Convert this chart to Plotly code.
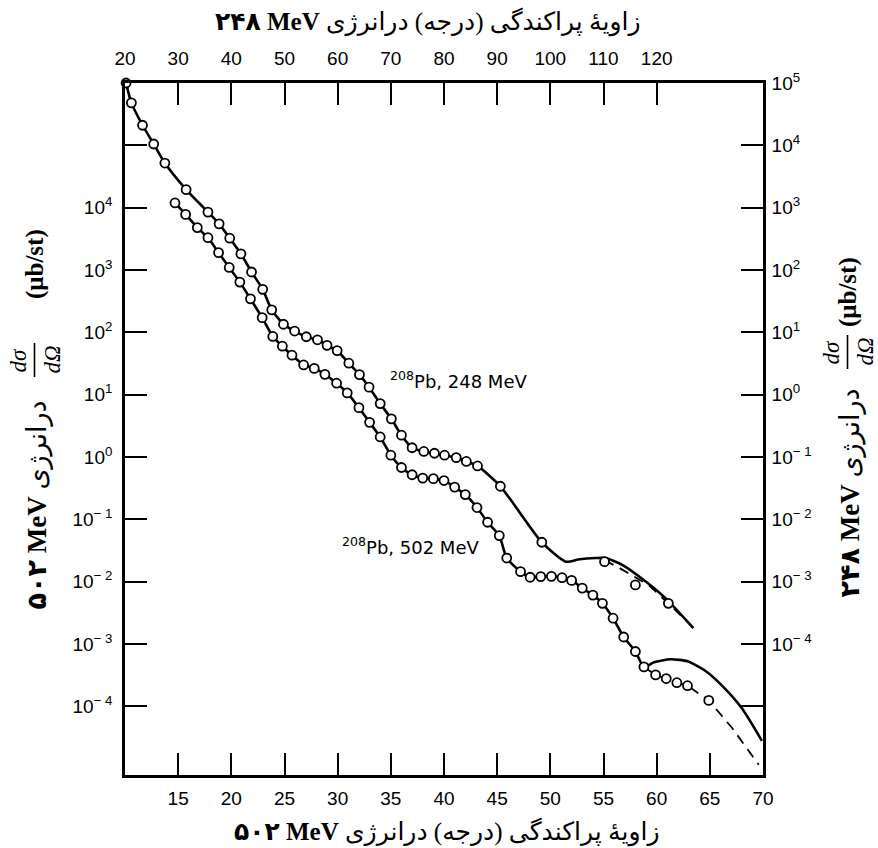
import plotly.graph_objects as go

# ---------------- 208Pb, 502 MeV (lower angle scale, left cross-section scale) ----------------
theta_502 = [14.7, 15.7, 16.8, 17.8, 18.8, 19.8, 20.8, 21.8, 22.9, 23.9,
             24.8, 25.7, 26.8, 27.8, 28.8, 29.9, 30.9, 32.0, 33.0, 34.0,
             35.0, 36.0, 37.0, 38.0, 39.0, 40.0, 41.0, 42.0, 43.1, 44.1,
             45.2, 45.9, 47.2, 48.1, 49.1, 50.1, 51.1, 52.0, 53.0, 54.0,
             54.9, 55.9, 56.9, 58.0, 58.8, 59.9, 60.9, 61.9, 62.9, 64.9]
xsec_502 = [1.19e4, 7.8e3, 4.8e3, 3.3e3, 1.9e3, 1.1e3, 640, 345, 172, 86,
            60, 43, 30, 26.4, 21.2, 15.3, 10.7, 6.2, 3.6, 2.1,
            1.07, 0.68, 0.52, 0.46, 0.45, 0.42, 0.33, 0.25, 0.155, 0.090,
            0.055, 0.024, 0.0145, 0.0118, 0.0121, 0.0122, 0.0116, 0.0105, 7.9e-3, 6.1e-3,
            4.5e-3, 2.6e-3, 1.3e-3, 7.6e-4, 4.3e-4, 3.2e-4, 2.8e-4, 2.4e-4, 2.15e-4, 1.25e-4]

# calculated curves beyond the diffraction minimum near 59 deg
solid_502_theta_tail = [59.75, 61.3, 62.9, 64.5, 66.1, 68.0, 69.9]
solid_502_xsec_tail = [5.1e-4, 5.7e-4, 5.3e-4, 3.8e-4, 2.2e-4, 9.4e-5, 2.8e-5]
dash_502_theta_tail = [67.1, 69.6]
dash_502_xsec_tail = [4.5e-5, 1.16e-5]

# ---------------- 208Pb, 248 MeV (upper angle scale, right cross-section scale) ----------------
theta_248 = [20.2, 21.2, 23.3, 25.4, 27.5, 31.5, 35.6, 37.7, 39.7, 41.8,
             43.8, 45.9, 47.6, 49.8, 51.9, 54.1, 56.2, 58.0, 59.9, 62.1,
             64.1, 65.9, 68.0, 70.1, 72.0, 74.0, 76.2, 78.2, 80.1, 82.3,
             84.2, 86.3, 90.6, 98.4, 110.2, 116.0, 122.2]
xsec_248 = [1.0e5, 4.8e4, 2.1e4, 1.05e4, 5.2e3, 1.95e3, 850, 550, 324, 182,
            93, 49, 23, 13.5, 10.5, 8.5, 7.6, 6.2, 5.1, 3.2,
            2.1, 1.32, 0.72, 0.41, 0.224, 0.141, 0.123, 0.115, 0.107, 0.098,
            0.085, 0.072, 0.034, 4.3e-3, 2.1e-3, 8.9e-4, 4.5e-4]

solid_248_theta_tail = [102.9, 105.5, 108.5, 110.4, 113.6, 118.0, 121.8, 126.9]
solid_248_xsec_tail = [2.1e-3, 2.3e-3, 2.4e-3, 2.4e-3, 1.85e-3, 1.0e-3, 5.3e-4, 1.8e-4]
dash_248_theta = [110.2, 112.6, 115.2, 118.6, 120.6, 122.2, 125.6, 127.0]
dash_248_xsec = [2.2e-3, 1.74e-3, 1.29e-3, 8.7e-4, 6.0e-4, 4.5e-4, 2.35e-4, 1.8e-4]

# axis ticks
bottom_ticks = [15, 20, 25, 30, 35, 40, 45, 50, 55, 60, 65, 70]
top_ticks = [20, 30, 40, 50, 60, 70, 80, 90, 100, 110, 120]
left_exps = [-4, -3, -2, -1, 0, 1, 2, 3, 4, 5]
right_exps = [-5, -4, -3, -2, -1, 0, 1, 2, 3, 4, 5]


def power_label(e):
    s = str(e).replace("-", "\u2212 ")
    return "10<sup>" + s + "</sup>"


W, H = 878, 848
ML, MR, MT, MB = 125, 115, 83, 73
PW, PH = W - ML - MR, H - MT - MB


def px(x):
    return (x - ML) / PW


def py(y):
    return (H - MB - y) / PH


LINE = dict(color="black", width=2.6)
MARK = dict(symbol="circle", size=9, color="white", line=dict(color="black", width=1.8))
DASH = dict(color="black", width=1.8, dash="10px,7px")

fig = go.Figure()

# 502 MeV curves
fig.add_trace(go.Scatter(
    x=theta_502[:45] + solid_502_theta_tail, y=xsec_502[:45] + solid_502_xsec_tail,
    mode="lines", line=dict(shape="spline", smoothing=0.6, **LINE),
    xaxis="x", yaxis="y", hoverinfo="skip"))
fig.add_trace(go.Scatter(
    x=theta_502[44:] + dash_502_theta_tail, y=xsec_502[44:] + dash_502_xsec_tail,
    mode="lines", line=DASH, xaxis="x", yaxis="y", hoverinfo="skip"))
fig.add_trace(go.Scatter(
    x=theta_502, y=xsec_502, mode="markers", marker=MARK, cliponaxis=False,
    xaxis="x", yaxis="y"))

# 248 MeV curves
fig.add_trace(go.Scatter(
    x=theta_248[:34] + solid_248_theta_tail, y=xsec_248[:34] + solid_248_xsec_tail,
    mode="lines", line=dict(shape="spline", smoothing=0.6, **LINE),
    xaxis="x2", yaxis="y2", hoverinfo="skip"))
fig.add_trace(go.Scatter(
    x=dash_248_theta, y=dash_248_xsec,
    mode="lines", line=DASH, xaxis="x2", yaxis="y2", hoverinfo="skip"))
fig.add_trace(go.Scatter(
    x=theta_248, y=xsec_248, mode="markers", marker=MARK, cliponaxis=False,
    xaxis="x2", yaxis="y2"))

TICKFONT = dict(family="Liberation Sans Narrow, Liberation Sans, Arial", size=19, color="black")
common = dict(showgrid=False, zeroline=False, showline=True, linecolor="black", linewidth=2.6,
              ticks="inside", ticklen=22, tickwidth=2, tickcolor="black", tickfont=TICKFONT)

fig.update_layout(
    width=W, height=H, margin=dict(l=ML, r=MR, t=MT, b=MB),
    paper_bgcolor="white", plot_bgcolor="white", showlegend=False,
    xaxis=dict(range=[10, 70], tickvals=bottom_ticks, ticktext=[str(v) for v in bottom_ticks],
               anchor="y", side="bottom", ticklabelstandoff=4, **common),
    xaxis2=dict(range=[20, 140], tickvals=top_ticks, ticktext=[str(v) for v in top_ticks],
                overlaying="x", anchor="y", side="top", ticklabelstandoff=8, **common),
    yaxis=dict(type="log", range=[-5.1, 6], tickvals=[10.0 ** e for e in left_exps],
               ticktext=[power_label(e) if e < 5 else "" for e in left_exps],
               anchor="x", side="left", ticklabelstandoff=6, **common),
    yaxis2=dict(type="log", range=[-6.1, 5], tickvals=[10.0 ** e for e in right_exps],
                ticktext=[power_label(e) if e > -5 else "" for e in right_exps],
                overlaying="y", anchor="x", side="right", ticklabelstandoff=2, **common),
)

TITLEFONT = dict(family="Liberation Serif, DejaVu Sans", size=25, color="black")
VTITLEFONT = dict(family="Liberation Serif, DejaVu Sans", size=27, color="black")
FRACFONT = dict(family="Liberation Serif", size=23, color="black")
LABELFONT = dict(family="DejaVu Sans, Liberation Sans", size=18, color="black")

ann = []
# horizontal axis titles
ann.append(dict(text="<b>۲۴۸ MeV</b> زاویهٔ پراکندگی (درجه) درانرژی",
                x=px(428), y=py(22), xanchor="center", yanchor="middle", font=TITLEFONT))
ann.append(dict(text="<b>۵۰۲ MeV</b> زاویهٔ پراکندگی (درجه) درانرژی",
                x=px(447), y=py(832), xanchor="center", yanchor="middle", font=TITLEFONT))

# vertical axis titles, each with a stacked dσ/dΩ
for side in ("left", "right"):
    if side == "left":
        energy, cx, y_bottom, y_frac, y_unit = "۵۰۲", 37, 612, 360, 264
    else:
        energy, cx, y_bottom, y_frac, y_unit = "۲۴۸", 850, 600, 352, 292
    ann.append(dict(text="<b>" + energy + " MeV</b> درانرژی", textangle=-90,
                    x=px(cx), y=py(y_bottom), xanchor="center", yanchor="bottom", font=VTITLEFONT))
    ann.append(dict(text="<b>(μb/st)</b>", textangle=-90,
                    x=px(cx - 2), y=py(y_unit), xanchor="center", yanchor="middle", font=TITLEFONT))
    ann.append(dict(text="<i>dσ</i>", textangle=-90,
                    x=px(cx - 5), y=py(y_frac), xanchor="right", yanchor="middle", font=FRACFONT))
    ann.append(dict(text="<i>dΩ</i>", textangle=-90,
                    x=px(cx), y=py(y_frac), xanchor="left", yanchor="middle", font=FRACFONT))
    fig.add_shape(type="line", xref="paper", yref="paper",
                  x0=px(cx - 2.5), x1=px(cx - 2.5), y0=py(y_frac - 17), y1=py(y_frac + 17),
                  line=dict(color="black", width=1.6))

# curve labels
ann.append(dict(text="<sup>208</sup>Pb, 248 MeV", x=px(388), y=py(380),
                xanchor="left", yanchor="middle", font=LABELFONT))
ann.append(dict(text="<sup>208</sup>Pb, 502 MeV", x=px(340), y=py(546),
                xanchor="left", yanchor="middle", font=LABELFONT))

for a in ann:
    a.update(xref="paper", yref="paper", showarrow=False)
fig.update_layout(annotations=ann)

fig.write_html("out.html")
